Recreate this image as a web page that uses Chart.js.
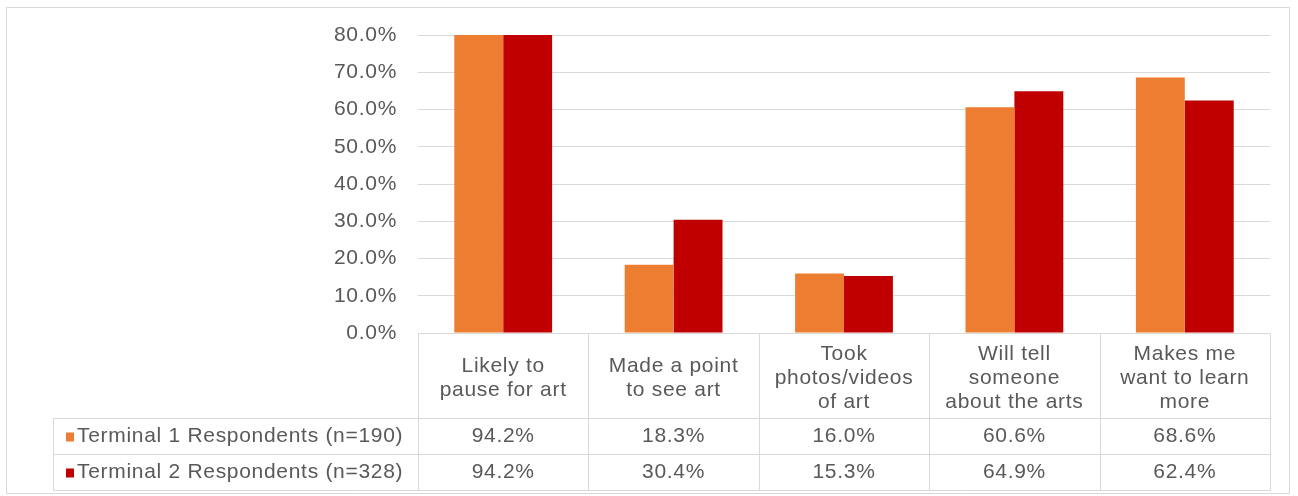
<!DOCTYPE html>
<html>
<head>
<meta charset="utf-8">
<script src="https://cdn.jsdelivr.net/npm/chart.js@4.4.1/dist/chart.umd.min.js"></script>
<style>
  html, body { margin: 0; padding: 0; background: #fff; }
  #wrap { width: 1298px; height: 496px; }
</style>
</head>
<body>
<div id="wrap"><canvas id="chart" width="1298" height="496"></canvas></div>
<script>
// category labels (multi-line, as in the data table header)
var categories = [
  ['Likely to', 'pause for art'],
  ['Made a point', 'to see art'],
  ['Took', 'photos/videos', 'of art'],
  ['Will tell', 'someone', 'about the arts'],
  ['Makes me', 'want to learn', 'more']
];
var seriesNames = ['Terminal 1 Respondents (n=190)', 'Terminal 2 Respondents (n=328)'];
var terminal1 = [94.2, 18.3, 16.0, 60.6, 68.6];
var terminal2 = [94.2, 30.4, 15.3, 64.9, 62.4];
var seriesColors = ['#ED7D31', '#C00000'];
var yTicks = [0, 10, 20, 30, 40, 50, 60, 70, 80];

var FONT = '"Liberation Sans", Arial, sans-serif';
var TEXT = '#595959';
var LINE = '#D9D9D9';

// draws the Excel-like data table under the plot, using the x scale for the columns
var dataTablePlugin = {
  id: 'dataTable',
  beforeDraw: function(chart) {
    var ctx = chart.ctx;
    ctx.letterSpacing = '0.7px';
    ctx.save();
    ctx.fillStyle = '#fff';
    ctx.fillRect(0, 0, chart.width, chart.height);
    ctx.strokeStyle = LINE;
    ctx.lineWidth = 1;
    ctx.strokeRect(6.5, 7.5, 1283, 486);
    ctx.restore();
  },
  afterDraw: function(chart) {
    var ctx = chart.ctx;
    var xs = chart.scales.x;
    var area = chart.chartArea;
    var n = categories.length;
    var colW = (area.right - area.left) / n;
    var top = Math.round(area.bottom) + 0.5;
    var headBottom = top + 85;
    var rowH = 36;
    var tableBottom = headBottom + rowH * 2;
    var legendLeft = 53.5;
    var rightEdge = Math.round(area.right) + 0.5;

    ctx.save();
    ctx.strokeStyle = LINE;
    ctx.lineWidth = 1;
    ctx.beginPath();
    // column boundaries
    for (var i = 0; i <= n; i++) {
      var bx = Math.round(area.left + colW * i) + 0.5;
      ctx.moveTo(bx, top);
      ctx.lineTo(bx, tableBottom);
    }
    // row lines
    ctx.moveTo(legendLeft, headBottom); ctx.lineTo(rightEdge, headBottom);
    ctx.moveTo(legendLeft, headBottom + rowH); ctx.lineTo(rightEdge, headBottom + rowH);
    ctx.moveTo(legendLeft, tableBottom); ctx.lineTo(rightEdge, tableBottom);
    ctx.moveTo(legendLeft, headBottom); ctx.lineTo(legendLeft, tableBottom);
    ctx.stroke();

    ctx.fillStyle = TEXT;
    ctx.font = '21px ' + FONT;
    ctx.textAlign = 'center';
    ctx.textBaseline = 'middle';
    // header labels
    var mid = top + 45;
    for (var c = 0; c < n; c++) {
      var cx = xs.getPixelForValue(c);
      var lines = categories[c];
      var y0 = mid - (lines.length - 1) * 24 / 2;
      for (var l = 0; l < lines.length; l++) {
        ctx.fillText(lines[l], cx, y0 + l * 24);
      }
    }
    // value rows
    var rows = [terminal1, terminal2];
    for (var r = 0; r < rows.length; r++) {
      var ry = headBottom + rowH * r + rowH / 2;
      for (var c2 = 0; c2 < n; c2++) {
        ctx.fillText(rows[r][c2].toFixed(1) + '%', xs.getPixelForValue(c2), ry);
      }
      // legend key + series name
      ctx.fillStyle = seriesColors[r];
      ctx.fillRect(66, ry - 4, 8, 9);
      ctx.fillStyle = TEXT;
      ctx.textAlign = 'left';
      ctx.fillText(seriesNames[r], 77, ry);
      ctx.textAlign = 'center';
    }
    ctx.restore();
  }
};

var ctx = document.getElementById('chart').getContext('2d');
var chart = new Chart(ctx, {
  type: 'bar',
  data: {
    labels: categories,
    datasets: [
      { label: seriesNames[0], data: terminal1, backgroundColor: seriesColors[0], borderWidth: 0 },
      { label: seriesNames[1], data: terminal2, backgroundColor: seriesColors[1], borderWidth: 0 }
    ]
  },
  options: {
    responsive: false,
    animation: false,
    devicePixelRatio: 1,
    layout: { padding: { top: 35, right: 28, bottom: 163, left: 0 } },
    datasets: { bar: { categoryPercentage: 0.574, barPercentage: 1.0 } },
    plugins: {
      legend: { display: false },
      tooltip: { enabled: false }
    },
    scales: {
      x: {
        display: false
      },
      y: {
        min: 0,
        max: 80,
        afterBuildTicks: function(axis) {
          axis.ticks = yTicks.map(function(v) { return { value: v }; });
        },
        afterFit: function(axis) { axis.width = 418; },
        border: { display: false },
        grid: { color: LINE, drawTicks: false, lineWidth: 1 },
        ticks: {
          padding: 21,
          color: TEXT,
          font: { family: FONT, size: 21 },
          callback: function(v) { return v.toFixed(1) + '%'; }
        }
      }
    }
  },
  plugins: [dataTablePlugin]
});
</script>
</body>
</html>
